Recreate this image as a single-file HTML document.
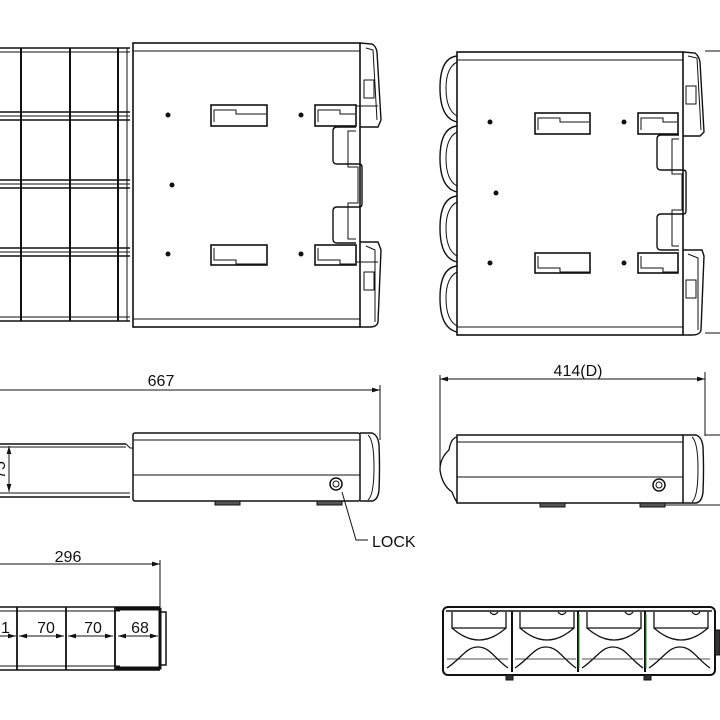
<!DOCTYPE html>
<html><head><meta charset="utf-8"><style>html,body{margin:0;padding:0;background:#fff;}svg{display:block}text{font-family:"Liberation Sans",sans-serif;fill:#111}</style></head>
<body>
<svg width="720" height="720" viewBox="0 0 720 720" xmlns="http://www.w3.org/2000/svg">
<defs>
<marker id="a" viewBox="0 0 10 6" refX="10" refY="3" markerWidth="8" markerHeight="5" orient="auto-start-reverse"><path d="M0,0L10,3L0,6z" fill="#111"/></marker>
</defs>
<g fill="none" stroke="#111" stroke-width="1">
<g stroke-width="1.6">
<line x1="0" y1="48" x2="130" y2="48"/>
<line x1="0" y1="112" x2="130" y2="112"/><line x1="0" y1="120" x2="130" y2="120"/>
<line x1="0" y1="180" x2="130" y2="180"/><line x1="0" y1="188" x2="130" y2="188"/>
<line x1="0" y1="248" x2="130" y2="248"/><line x1="0" y1="256" x2="130" y2="256"/>
<line x1="0" y1="321" x2="130" y2="321"/>
</g>
<line x1="0" y1="52" x2="130" y2="52"/><line x1="0" y1="116" x2="130" y2="116"/><line x1="0" y1="184" x2="130" y2="184"/><line x1="0" y1="252" x2="130" y2="252"/><line x1="0" y1="317" x2="130" y2="317"/>
<g stroke-width="2">
<line x1="21" y1="48" x2="21" y2="321"/><line x1="70" y1="48" x2="70" y2="321"/><line x1="118" y1="48" x2="118" y2="321"/>
</g>
<line x1="127" y1="48" x2="127" y2="321"/>
<rect x="133" y="43" width="227" height="284" stroke-width="1.6"/>
<line x1="133" y1="51" x2="360" y2="51"/><line x1="133" y1="319" x2="360" y2="319"/>
<path d="M360,43 L372,44 Q376,46 377,52 L381,120 L378,127 L360,127" stroke-width="1.4"/>
<path d="M360,242 L378,242 L381,250 L378,322 Q377,327 370,327 L360,327" stroke-width="1.4"/>
<path d="M366,48 L373,50 L377,120"/><path d="M366,246 L375,250 L375,322"/>
<rect x="364" y="80" width="10" height="18"/><rect x="364" y="272" width="10" height="18"/>
<line x1="356" y1="106" x2="378" y2="106"/><line x1="356" y1="262" x2="378" y2="262"/>
<g stroke-width="1.6">
<rect x="211" y="105" width="56" height="21"/><rect x="315" y="105" width="41" height="21"/>
<rect x="211" y="245" width="56" height="20"/><rect x="315" y="245" width="41" height="20"/>
</g>
<path d="M214,122 V110 H236 V114 H266"/><path d="M318,122 V110 H340 V114 H355"/>
<path d="M214,248 V260 H236 V264 H266"/><path d="M318,248 V260 H340 V264 H355"/>
<path d="M356,127 H337 Q333,127 333,131 V160 Q333,164 337,164 H359 Q362,164 362,167 V204 Q362,207 359,207 H337 Q333,207 333,211 V239 Q333,243 337,243 H356" stroke-width="1.4"/>
<path d="M356,131 H348 V167 H358 V203 H348 V239 H356"/>
<rect x="457" y="52" width="226" height="283" stroke-width="1.6"/>
<line x1="457" y1="60" x2="683" y2="60"/><line x1="457" y1="327" x2="683" y2="327"/>
<g stroke-width="1.4">
<path d="M457,56 Q440,58 440,88 Q440,118 457,122"/>
<path d="M457,126 Q440,128 440,158 Q440,188 457,192"/>
<path d="M457,196 Q440,198 440,228 Q440,258 457,262"/>
<path d="M457,266 Q440,268 440,298 Q440,328 457,332"/>
</g>
<path d="M457,62 Q446,68 446,88 Q446,110 457,116"/><path d="M457,132 Q446,138 446,158 Q446,180 457,186"/><path d="M457,202 Q446,208 446,228 Q446,250 457,256"/><path d="M457,272 Q446,278 446,298 Q446,320 457,326"/>
<path d="M683,52 L695,53 Q699,56 700,62 L704,132 L700,136 L683,136" stroke-width="1.4"/>
<path d="M683,250 L702,250 L704,256 L701,330 Q700,335 692,335 L683,335" stroke-width="1.4"/>
<path d="M688,56 L697,58 L701,130"/><path d="M688,254 L698,258 L698,330"/>
<rect x="686" y="86" width="10" height="18"/><rect x="686" y="280" width="10" height="18"/>
<line x1="705" y1="51" x2="720" y2="51"/><line x1="705" y1="333" x2="720" y2="333"/>
<g stroke-width="1.6">
<rect x="535" y="113" width="55" height="21"/><rect x="638" y="113" width="40" height="21"/>
<rect x="535" y="253" width="55" height="20"/><rect x="638" y="253" width="40" height="20"/>
</g>
<path d="M538,130 V118 H560 V122 H589"/><path d="M641,130 V118 H663 V122 H677"/>
<path d="M538,256 V268 H560 V272 H589"/><path d="M641,256 V268 H663 V272 H677"/>
<path d="M679,135 H661 Q657,135 657,139 V166 Q657,170 661,170 H683 Q686,170 686,173 V211 Q686,214 683,214 H661 Q657,214 657,218 V246 Q657,250 661,250 H679" stroke-width="1.4"/>
<path d="M679,139 H672 V174 H682 V210 H672 V246 H679"/>
<line x1="0" y1="390" x2="380" y2="390" marker-end="url(#a)"/>
<line x1="380" y1="385" x2="380" y2="440"/>
<g stroke-width="1.5"><line x1="0" y1="444" x2="126" y2="444"/><line x1="0" y1="497" x2="130" y2="497"/></g>
<line x1="0" y1="447" x2="126" y2="447"/><line x1="0" y1="493" x2="130" y2="493"/>
<path d="M126,444 L130,448 L133,448"/>
<line x1="9" y1="446" x2="9" y2="492" marker-start="url(#a)" marker-end="url(#a)"/>
<rect x="133" y="433" width="227" height="68" rx="2" stroke-width="1.5"/>
<line x1="133" y1="440" x2="360" y2="440"/><line x1="133" y1="475" x2="360" y2="475"/>
<path d="M360,433 H372 Q378,435 379,445 Q380,467 379,490 Q378,500 372,501 H360" stroke-width="1.4"/>
<path d="M368,435 Q374,440 374,467 Q374,495 368,500"/>
<circle cx="336" cy="484" r="6" stroke-width="1.5"/><circle cx="336" cy="484" r="3"/>
<rect x="215" y="501" width="25" height="4" fill="#555"/><rect x="317" y="501" width="25" height="4" fill="#555"/>
<path d="M342,492 L356,540 H368"/>
<line x1="440" y1="379" x2="705" y2="379" marker-start="url(#a)" marker-end="url(#a)"/>
<line x1="440" y1="375" x2="440" y2="470"/><line x1="705" y1="372" x2="705" y2="436"/>
<rect x="457" y="435" width="226" height="68" stroke-width="1.5"/>
<line x1="457" y1="442" x2="683" y2="442"/><line x1="457" y1="477" x2="683" y2="477"/>
<path d="M457,437 Q451,438 449,450 Q440,458 440,470 Q442,485 452,492 Q455,500 457,502" stroke-width="1.3"/>
<path d="M683,435 H696 Q702,437 703,447 Q704,469 703,492 Q702,502 696,503 H683" stroke-width="1.4"/>
<path d="M692,437 Q698,442 698,469 Q698,497 692,502"/>
<line x1="705" y1="435" x2="720" y2="435"/><line x1="665" y1="505" x2="720" y2="505"/>
<circle cx="659" cy="485" r="6" stroke-width="1.5"/><circle cx="659" cy="485" r="3"/>
<rect x="540" y="503" width="25" height="4" fill="#555"/><rect x="640" y="503" width="25" height="4" fill="#555"/>
<line x1="0" y1="564" x2="160" y2="564" marker-end="url(#a)"/>
<line x1="160" y1="560" x2="160" y2="607"/>
<line x1="0" y1="607" x2="160" y2="607" stroke-width="1.5"/><line x1="0" y1="611" x2="120" y2="611"/>
<line x1="0" y1="670" x2="160" y2="670" stroke-width="1.5"/><line x1="0" y1="666" x2="120" y2="666"/>
<path d="M116,609 H160 V668 H116" stroke-width="3"/>
<rect x="160" y="612" width="6" height="53" stroke-width="1.5"/>
<g stroke-width="1.8"><line x1="17" y1="607" x2="17" y2="670"/><line x1="66" y1="607" x2="66" y2="670"/><line x1="115" y1="607" x2="115" y2="670"/></g>
<line x1="0" y1="636" x2="16" y2="636" marker-end="url(#a)"/>
<line x1="19" y1="636" x2="64" y2="636" marker-start="url(#a)" marker-end="url(#a)"/>
<line x1="68" y1="636" x2="113" y2="636" marker-start="url(#a)" marker-end="url(#a)"/>
<line x1="118" y1="636" x2="158" y2="636" marker-start="url(#a)" marker-end="url(#a)"/>
<rect x="443" y="607" width="272" height="68" rx="5" stroke-width="2"/>
<line x1="446" y1="611" x2="712" y2="611" stroke-width="1.4"/>
<rect x="715" y="630" width="5" height="25" fill="#333"/>
<g id="c" stroke-width="1.3">
<path d="M452,612 V628 H506 V612"/>
<path d="M452,628 Q479,652 506,628"/>
<path d="M447,668 C462,658 466,647 478,647 C490,647 494,658 508,668"/>
<line x1="447" y1="659" x2="508" y2="659" stroke-width="0.8"/>
<path d="M490,612 Q494,617 498,612"/>
</g>
<use href="#c" x="68"/><use href="#c" x="135"/><use href="#c" x="202"/>
<g stroke-width="2"><line x1="512" y1="611" x2="512" y2="672"/><line x1="578" y1="611" x2="578" y2="672"/><line x1="645" y1="611" x2="645" y2="672"/></g>
<line x1="579" y1="614" x2="579" y2="668" stroke="#2a8a2a"/><line x1="646" y1="614" x2="646" y2="668" stroke="#2a8a2a"/>
<rect x="506" y="675" width="7" height="5" fill="#333"/><rect x="644" y="675" width="7" height="5" fill="#333"/>
</g>
<g fill="#111">
<circle cx="168" cy="115" r="2.5"/><circle cx="301" cy="115" r="2.5"/><circle cx="172" cy="185" r="2.5"/><circle cx="168" cy="254" r="2.5"/><circle cx="301" cy="254" r="2.5"/>
<circle cx="490" cy="122" r="2.5"/><circle cx="624" cy="122" r="2.5"/><circle cx="496" cy="193" r="2.5"/><circle cx="490" cy="263" r="2.5"/><circle cx="624" cy="263" r="2.5"/>
</g>
<text x="161" y="386" font-size="16" text-anchor="middle">667</text>
<text x="578" y="376" font-size="16" text-anchor="middle">414(D)</text>
<text x="372" y="547" font-size="16">LOCK</text>
<text x="68" y="562" font-size="16" text-anchor="middle">296</text>
<text x="5" y="470" font-size="16" text-anchor="middle" transform="rotate(-90 5 470)">75</text>
<text x="1" y="633" font-size="16">1</text>
<text x="46" y="633" font-size="16" text-anchor="middle">70</text>
<text x="93" y="633" font-size="16" text-anchor="middle">70</text>
<text x="140" y="633" font-size="16" text-anchor="middle">68</text>
</svg>
</body></html>
